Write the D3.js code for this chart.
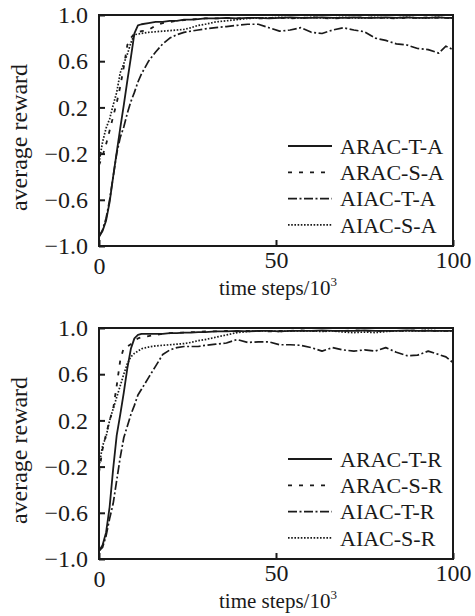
<!DOCTYPE html>
<html>
<head>
<meta charset="utf-8">
<script src="https://cdn.jsdelivr.net/npm/d3@7/dist/d3.min.js"></script>
<style>
  html, body { margin: 0; padding: 0; background: #fff; }
  svg { display: block; }
  text { font-family: "Liberation Serif", "Times New Roman", serif; fill: #1a1a1a; }
</style>
</head>
<body>
<div id="chart"></div>
<script>
// ---------------- data ----------------
const steps = [0,1,2,3,4,5,6,7,8,9,10,11,12,14,16,18,20,22,24,26,28,30,33,36,39,42,45,48,51,54,57,60,63,66,69,72,75,78,81,84,87,90,93,96,98,100];

// panel A (top)
const aracTA = [-0.92,-0.87,-0.78,-0.62,-0.40,-0.19,0.02,0.22,0.43,0.63,0.84,0.91,0.92,0.93,0.94,0.94,0.95,0.95,0.96,0.96,0.965,0.97,0.97,0.975,0.97,0.975,0.975,0.97,0.975,0.98,0.975,0.975,0.98,0.975,0.975,0.98,0.975,0.975,0.98,0.975,0.98,0.975,0.975,0.98,0.975,0.975];
const aracSA = [-0.30,-0.22,-0.12,0.00,0.12,0.24,0.38,0.55,0.74,0.80,0.84,0.85,0.86,0.87,0.91,0.93,0.94,0.95,0.955,0.96,0.965,0.97,0.97,0.975,0.97,0.975,0.97,0.975,0.975,0.97,0.975,0.98,0.975,0.97,0.975,0.975,0.98,0.975,0.975,0.97,0.975,0.975,0.98,0.975,0.975,0.975];
const aiacTA = [-0.92,-0.86,-0.76,-0.60,-0.40,-0.20,-0.06,0.03,0.15,0.25,0.33,0.42,0.49,0.60,0.68,0.75,0.80,0.83,0.85,0.86,0.87,0.88,0.89,0.90,0.91,0.92,0.92,0.89,0.86,0.87,0.89,0.85,0.84,0.87,0.89,0.87,0.855,0.80,0.78,0.75,0.74,0.71,0.70,0.67,0.73,0.70];
const aiacSA = [-0.28,-0.10,0.02,0.10,0.22,0.33,0.50,0.58,0.66,0.76,0.83,0.835,0.84,0.85,0.855,0.86,0.865,0.87,0.875,0.89,0.91,0.92,0.94,0.95,0.96,0.97,0.975,0.975,0.98,0.975,0.975,0.98,0.975,0.975,0.98,0.975,0.975,0.98,0.975,0.975,0.98,0.975,0.975,0.98,0.975,0.975];

// panel R (bottom)
const aracTR = [-0.93,-0.88,-0.77,-0.55,-0.22,0.07,0.25,0.44,0.65,0.82,0.91,0.94,0.95,0.95,0.95,0.95,0.955,0.955,0.96,0.96,0.965,0.965,0.97,0.97,0.975,0.97,0.975,0.975,0.97,0.975,0.975,0.975,0.98,0.975,0.975,0.975,0.98,0.975,0.975,0.975,0.98,0.975,0.975,0.975,0.975,0.975];
const aracSR = [-0.25,-0.05,0.08,0.20,0.30,0.50,0.72,0.83,0.84,0.86,0.89,0.91,0.92,0.93,0.94,0.95,0.955,0.96,0.96,0.965,0.965,0.97,0.97,0.975,0.97,0.975,0.975,0.97,0.975,0.975,0.98,0.975,0.975,0.975,0.975,0.98,0.975,0.975,0.975,0.975,0.975,0.98,0.975,0.975,0.975,0.975];
const aiacTR = [-0.93,-0.90,-0.80,-0.65,-0.52,-0.32,-0.12,0.05,0.15,0.25,0.33,0.42,0.47,0.57,0.67,0.77,0.81,0.83,0.84,0.84,0.84,0.85,0.86,0.87,0.90,0.875,0.88,0.88,0.855,0.855,0.85,0.83,0.80,0.83,0.81,0.80,0.81,0.80,0.83,0.79,0.76,0.765,0.80,0.77,0.75,0.70];
const aiacSR = [-0.20,-0.02,0.06,0.20,0.30,0.40,0.50,0.60,0.69,0.75,0.78,0.80,0.82,0.835,0.845,0.85,0.855,0.86,0.865,0.875,0.89,0.90,0.92,0.94,0.96,0.97,0.975,0.975,0.97,0.975,0.975,0.975,0.97,0.975,0.965,0.96,0.965,0.96,0.97,0.975,0.975,0.975,0.98,0.975,0.975,0.975];

const namesA = ["ARAC-T-A","ARAC-S-A","AIAC-T-A","AIAC-S-A"];
const namesR = ["ARAC-T-R","ARAC-S-R","AIAC-T-R","AIAC-S-R"];
const yTicks = [-1.0,-0.6,-0.2,0.2,0.6,1.0];
const xTicks = [0,50,100];
const xLabelMain = "time steps/10";
const xLabelSup = "3";
const yLabel = "average reward";

// ---------------- layout ----------------
const W = 475, H = 616;
const left = 99, right = 453;
const panelTops = [15, 328];
const panelH = 231;
const ink = "#1a1a1a";
const styles = [
  {dash: null, w: 1.8},
  {dash: "4,7", w: 1.8},
  {dash: "9,2.5,2,2.5", w: 1.7},
  {dash: "1.6,1.6", w: 1.7}
];

const svg = d3.select("#chart").append("svg").attr("width", W).attr("height", H);

const x = d3.scaleLinear().domain([0, 100]).range([left, right]);

function drawPanel(top, series, names, idx) {
  const bottom = top + panelH;
  const y = d3.scaleLinear().domain([-1, 1]).range([bottom, top]);
  const g = svg.append("g");

  const clipId = "clip" + idx;
  svg.append("clipPath").attr("id", clipId)
    .append("rect").attr("x", left).attr("y", top).attr("width", right - left).attr("height", panelH);

  const line = d3.line().x((d, i) => x(steps[i])).y(d => y(d));
  const lg = g.append("g").attr("clip-path", `url(#${clipId})`);
  series.forEach((s, k) => {
    lg.append("path").datum(s)
      .attr("d", line)
      .attr("fill", "none")
      .attr("stroke", ink)
      .attr("stroke-width", styles[k].w)
      .attr("stroke-dasharray", styles[k].dash)
      .attr("stroke-linejoin", "round");
  });

  // y axis (inward ticks)
  const ya = d3.axisLeft(y).tickValues(yTicks).tickFormat(d3.format(".1f")).tickSize(-6).tickPadding(11);
  const yg = g.append("g").attr("transform", `translate(${left},0)`).call(ya);
  yg.select(".domain").remove();
  yg.selectAll("line").attr("stroke", ink).attr("stroke-width", 2);
  yg.selectAll("text").attr("font-size", 24).attr("font-family", "Liberation Serif").attr("fill", ink);

  // x axis (inward ticks)
  const xa = d3.axisBottom(x).tickValues(xTicks).tickFormat(d3.format("d")).tickSize(-6).tickPadding(4);
  const xg = g.append("g").attr("transform", `translate(0,${bottom})`).call(xa);
  xg.select(".domain").remove();
  xg.selectAll("line").attr("stroke", ink).attr("stroke-width", 2);
  xg.selectAll("text").attr("font-size", 24).attr("font-family", "Liberation Serif").attr("fill", ink)
    .attr("dy", d => d === 0 ? "1.0em" : "0.75em");

  // frame
  g.append("rect").attr("x", left).attr("y", top).attr("width", right - left).attr("height", panelH)
    .attr("fill", "none").attr("stroke", ink).attr("stroke-width", 2);

  // axis titles
  const xt = g.append("text").attr("x", (left + right) / 2 + 2).attr("y", bottom + 49)
    .attr("text-anchor", "middle").attr("font-size", 21);
  xt.append("tspan").text(xLabelMain);
  xt.append("tspan").text(xLabelSup).attr("font-size", 13).attr("dy", -9);

  g.append("text")
    .attr("transform", `translate(27,${(top + bottom) / 2 + 7}) rotate(-90)`)
    .attr("text-anchor", "middle").attr("font-size", 24).text(yLabel);

  // legend
  const legTop = top + 131;
  const rowH = 26.3;
  names.forEach((n, k) => {
    const cy = legTop + k * rowH;
    g.append("line").attr("x1", 288).attr("x2", 332).attr("y1", cy).attr("y2", cy)
      .attr("stroke", ink).attr("stroke-width", styles[k].w)
      .attr("stroke-dasharray", styles[k].dash);
    g.append("text").attr("x", 340).attr("y", cy).attr("dy", "0.35em")
      .attr("font-size", 22).text(n);
  });
}

drawPanel(panelTops[0], [aracTA, aracSA, aiacTA, aiacSA], namesA, 0);
drawPanel(panelTops[1], [aracTR, aracSR, aiacTR, aiacSR], namesR, 1);
</script>
</body>
</html>
